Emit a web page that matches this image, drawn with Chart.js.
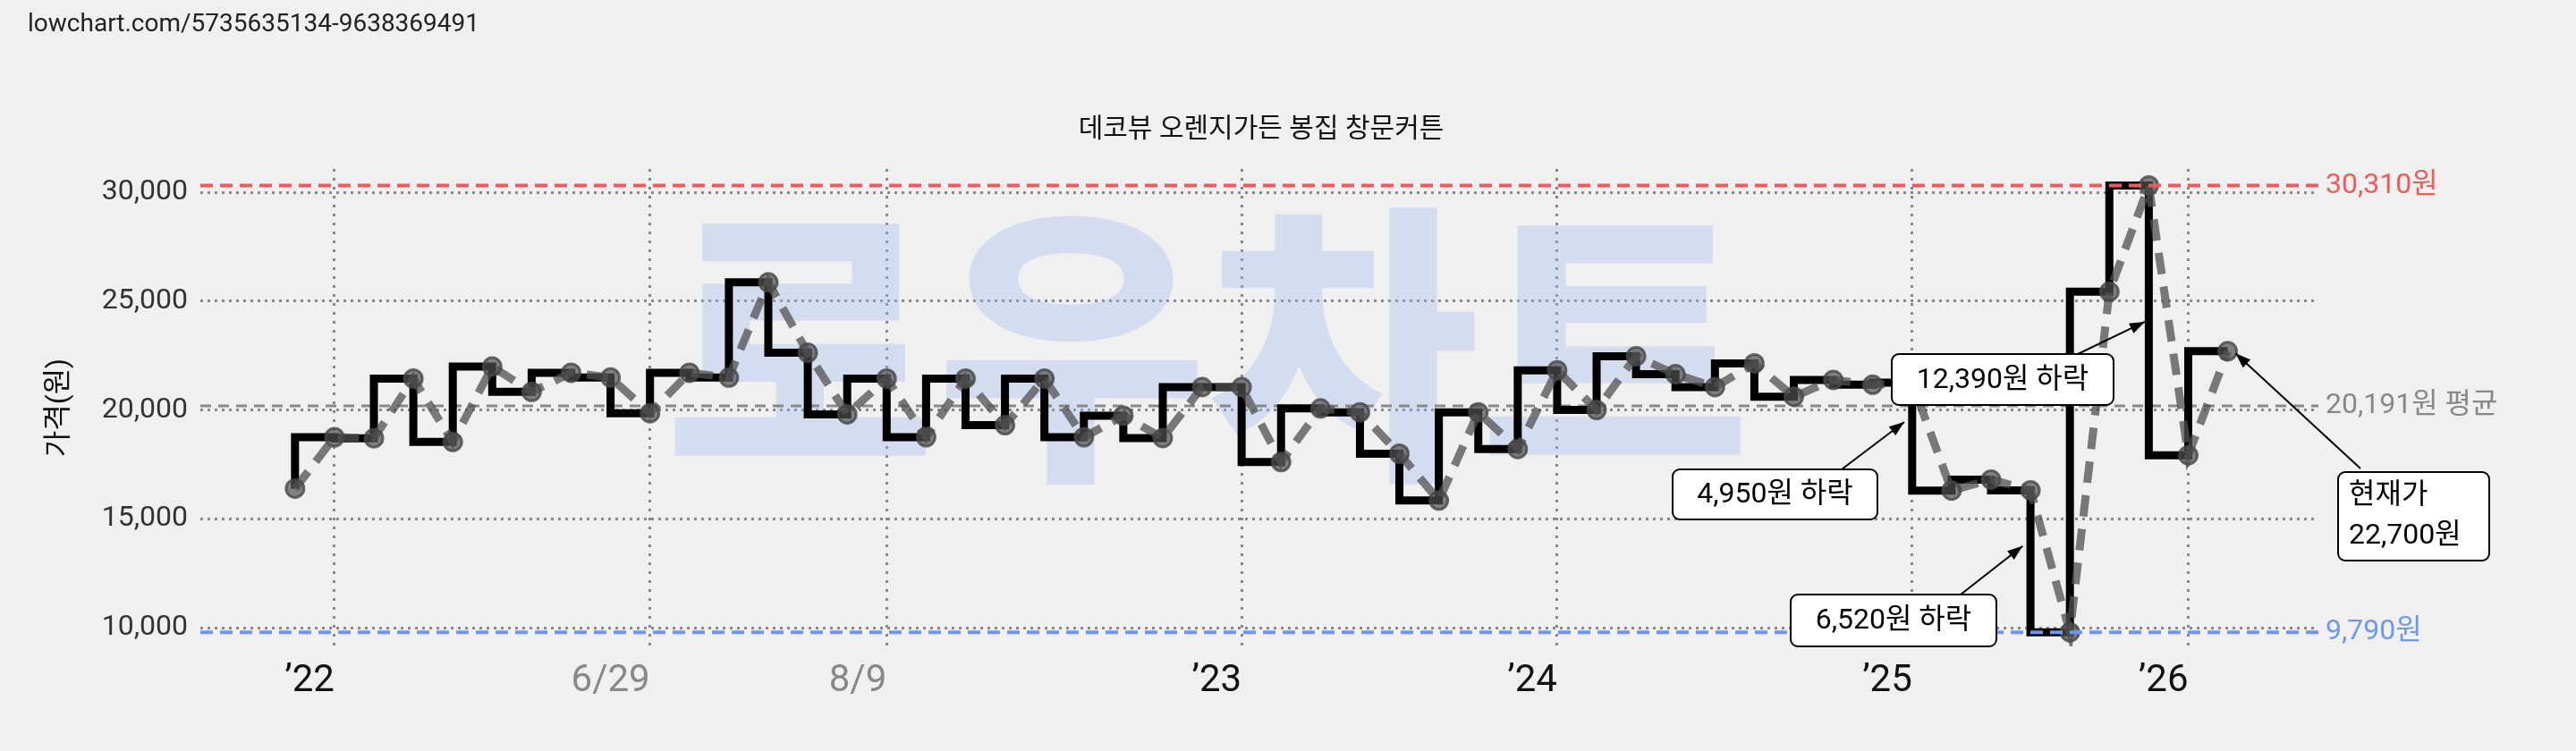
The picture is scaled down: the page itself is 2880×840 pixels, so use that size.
<!DOCTYPE html>
<html><head><meta charset="utf-8">
<script src="https://cdn.jsdelivr.net/npm/chart.js@4"></script>
<style>html,body{margin:0;padding:0;background:#f0f0f0}#w{width:2880px;height:840px}</style>
</head><body><div id="w"><canvas id="c" width="2880" height="840"></canvas></div>
<script>
const prices = [16390,18750,18700,21440,18530,21990,20830,21710,21490,19850,
21710,21490,25860,22630,19800,21440,18750,21440,19300,21440,
18750,19740,18710,21050,21050,17610,20070,19890,17990,15840,
19890,18210,21820,20000,22470,21640,21050,22140,20610,21380,
21160,21250,16300,16800,16310,9790,25430,30310,17920,22700];
const tickIdx = [1,9,15,24,32,41,48];
const tickText = ["’22","6/29","8/9","’23","’24","’25","’26"];
const tickGray = [false,true,true,false,false,false,false];
const yTicks = [10000,15000,20000,25000,30000];
const maxPrice = 30310, minPrice = 9790, avgPrice = 20191, curPrice = 22700;
const title = "데코뷰 오렌지가든 봉집 창문커튼";
const notes = [
 {text:["12,390원 하락"], tip:[46.9,24050], box:[2115,396,248,57]},
 {text:["4,950원 하락"], tip:[40.8,19450], box:[1870,525,229,56]},
 {text:["6,520원 하락"], tip:[43.8,13750], box:[2002,665,230,58]},
 {text:["현재가","22,700원"], tip:[49.2,22600], box:[2614,528,169,99]}
];
const pts = prices.map((v,i)=>({x:i,y:v}));
const F = "Roboto, 'Noto Sans CJK KR', sans-serif";

const deco = {
 id:'deco',
 beforeDatasetsDraw(ch){
  const c=ch.ctx,a=ch.chartArea,y=ch.scales.y;
  c.save();
  c.fillStyle='rgba(160,185,240,0.35)';
  c.font='900 330px "Noto Sans CJK KR"';
  c.textAlign='center';c.textBaseline='middle';
  c.fillText('로우차트',1350,385);
  const yy=y.getPixelForValue(avgPrice);
  c.strokeStyle='#888';c.lineWidth=3;c.setLineDash([12,8]);
  c.beginPath();c.moveTo(a.left,yy);c.lineTo(a.right,yy);c.stroke();
  c.restore();
 },
 afterDatasetsDraw(ch){
  const c=ch.ctx,a=ch.chartArea,x=ch.scales.x,y=ch.scales.y;
  c.save();
  const ref=[[maxPrice,'#f05a5a',maxPrice.toLocaleString()+'원'],[minPrice,'#6f95f5',minPrice.toLocaleString()+'원']];
  c.lineWidth=4;c.setLineDash([14,8]);
  for(const [v,col] of ref){const yy=y.getPixelForValue(v);c.strokeStyle=col;c.beginPath();c.moveTo(a.left,yy);c.lineTo(a.right,yy);c.stroke();}
  c.setLineDash([]);
  c.font='32px '+F;c.textBaseline='middle';c.textAlign='left';
  for(const [v,col,t] of ref){c.fillStyle=col;c.fillText(t,a.right+8,y.getPixelForValue(v));}
  c.fillStyle='#888';c.fillText(avgPrice.toLocaleString()+'원 평균',a.right+8,y.getPixelForValue(avgPrice));
  c.fillStyle='#111';c.textAlign='center';c.font='30px '+F;
  c.fillText(title,1410,145);
  c.textAlign='left';c.fillStyle='#222';c.font='28px '+F;
  c.fillText('lowchart.com/5735635134-9638369491',31,28);
  c.font='32px '+F;
  for(const n of notes){
   const [bx,by,bw,bh]=n.box;
   const tx=x.getPixelForValue(n.tip[0]),ty=y.getPixelForValue(n.tip[1]);
   let sx,sy;
   if(tx>bx+bw){sx=bx+bw-40;sy=by;} else {sx=bx+24;sy=by;}
   if(n.text.length>1){sx=bx+25;sy=by-4;}
   c.strokeStyle='#000';c.lineWidth=2;
   c.beginPath();c.moveTo(sx,sy);c.lineTo(tx,ty);c.stroke();
   const ang=Math.atan2(ty-sy,tx-sx);
   c.fillStyle='#000';c.beginPath();c.moveTo(tx,ty);
   c.lineTo(tx-18*Math.cos(ang-0.35),ty-18*Math.sin(ang-0.35));
   c.lineTo(tx-18*Math.cos(ang+0.35),ty-18*Math.sin(ang+0.35));c.closePath();c.fill();
   c.fillStyle='#fff';c.beginPath();c.roundRect(bx,by,bw,bh,8);c.fill();c.stroke();
   c.fillStyle='#000';c.textBaseline='middle';
   if(n.text.length===1){c.textAlign='center';c.fillText(n.text[0],bx+bw/2,by+bh/2+1);}
   else{c.textAlign='left';c.fillText(n.text[0],bx+12,by+27);c.fillText(n.text[1],bx+12,by+72);}
  }
  c.restore();
 }
};

new Chart(document.getElementById('c'),{
 type:'line',
 data:{datasets:[
  {data:pts,stepped:'after',borderColor:'#000',borderWidth:9,pointRadius:0,order:2},
  {data:pts,borderColor:'rgba(80,80,80,0.75)',borderWidth:9,borderDash:[24,14],
   pointRadius:10,pointBackgroundColor:'rgba(80,80,80,0.7)',pointBorderColor:'rgba(70,70,70,0.8)',pointBorderWidth:3,order:1}
 ]},
 options:{
  responsive:false,animation:false,devicePixelRatio:1,
  layout:{padding:{left:0,right:288,top:189,bottom:0}},
  plugins:{legend:{display:false},tooltip:{enabled:false}},
  scales:{
   x:{type:'linear',min:-2.4,max:51.3,
    afterBuildTicks(s){s.ticks=tickIdx.map(v=>({value:v}));},
    afterFit(s){s.height=117;},
    grid:{color:'#888',lineWidth:3,drawTicks:false},
    border:{display:false,dash:[3,7]},
    ticks:{align:'end',padding:14,font:{size:42,family:F},
     color:c=>tickGray[c.index]?'#888':'#111',
     callback:(v,i)=>tickText[i]}},
   y:{min:9140,max:31070,
    afterBuildTicks(s){s.ticks=yTicks.map(v=>({value:v}));},
    afterFit(s){s.width=224;},
    grid:{color:'#888',lineWidth:3,drawTicks:false},
    border:{display:false,dash:[3,5]},
    title:{display:true,text:'가격(원)',font:{size:32,family:F},color:'#111',padding:{top:48,bottom:0}},
    ticks:{padding:14,font:{size:32,family:F},color:'#333',callback:v=>v.toLocaleString()}}
  }
 },
 plugins:[deco]
});
</script></body></html>
